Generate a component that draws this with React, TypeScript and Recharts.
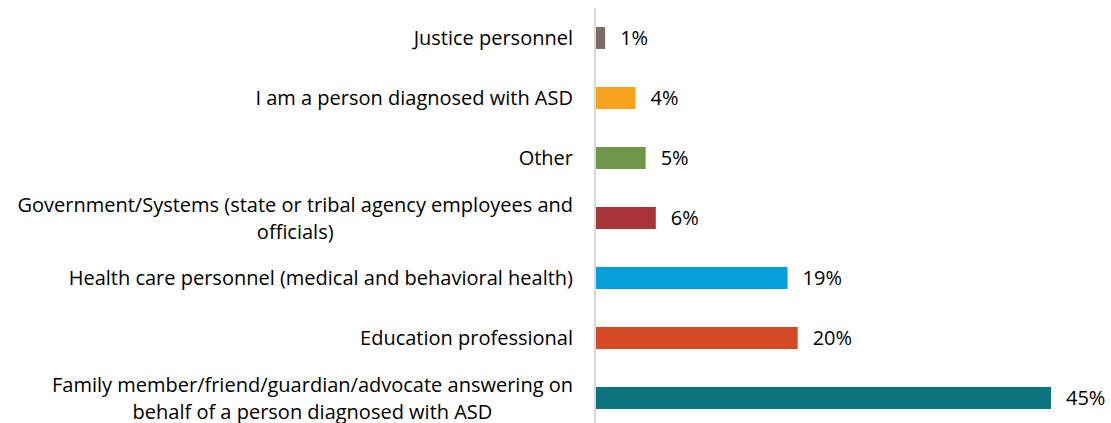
import { BarChart, Bar, XAxis, YAxis, Cell, LabelList } from 'recharts';

const categories = [
  'Justice personnel',
  'I am a person diagnosed with ASD',
  'Other',
  'Government/Systems (state or tribal agency employees and\nofficials)',
  'Health care personnel (medical and behavioral health)',
  'Education professional',
  'Family member/friend/guardian/advocate answering on\nbehalf of a person diagnosed with ASD',
];
const shares = [1, 4, 5, 6, 19, 20, 45];
const barColors = ['#7b6e66', '#f9a21d', '#6f974a', '#a8353a', '#05a0da', '#d44a26', '#0a747f'];

const FONT = '"Open Sans", sans-serif';
const FONT_SIZE = 20;

const data = categories.map((name, i) => ({ name, value: shares[i] }));

let measureCtx: CanvasRenderingContext2D | null = null;
function textWidth(s: string) {
  if (!measureCtx) measureCtx = document.createElement('canvas').getContext('2d');
  if (!measureCtx) return s.length * 10;
  measureCtx.font = `${FONT_SIZE}px "Open Sans"`;
  return measureCtx.measureText(s).width;
}

// multi-line labels are centred on each other, block right-aligned to the axis
function CategoryTick({ x, y, payload }: any) {
  const lines = String(payload.value).split('\n');
  const maxW = Math.max(...lines.map(textWidth));
  const cx = x - maxW / 2;
  const lineH = 27;
  const startY = y - ((lines.length - 1) * lineH) / 2;
  return (
    <text textAnchor="middle" fontFamily={FONT} fontSize={FONT_SIZE} fill="#000">
      {lines.map((l, i) => (
        <tspan key={i} x={cx} y={startY + i * lineH} dy="0.35em">
          {l}
        </tspan>
      ))}
    </text>
  );
}

export default function App() {
  return (
    <div style={{ position: 'absolute', left: 0, top: 0, width: 1111, height: 423, overflow: 'hidden', background: '#fff' }}>
      <BarChart
        width={1111}
        height={428}
        data={data}
        layout="vertical"
        margin={{ top: 8, right: 60, bottom: 0, left: 0 }}
      >
        <XAxis type="number" domain={[0, 45]} hide />
        <YAxis
          type="category"
          dataKey="name"
          width={595}
          tickSize={0}
          tickMargin={22}
          tickLine={false}
          axisLine={{ stroke: '#d9d9d9', strokeWidth: 2 }}
          tick={<CategoryTick />}
          interval={0}
        />
        <Bar dataKey="value" barSize={22} isAnimationActive={false}>
          {data.map((d, i) => (
            <Cell key={d.name} fill={barColors[i]} />
          ))}
          <LabelList
            dataKey="value"
            position="right"
            offset={15}
            formatter={(v: any) => `${v}%`}
            fontFamily={FONT}
            fontSize={FONT_SIZE}
            fill="#000"
          />
        </Bar>
      </BarChart>
    </div>
  );
}
